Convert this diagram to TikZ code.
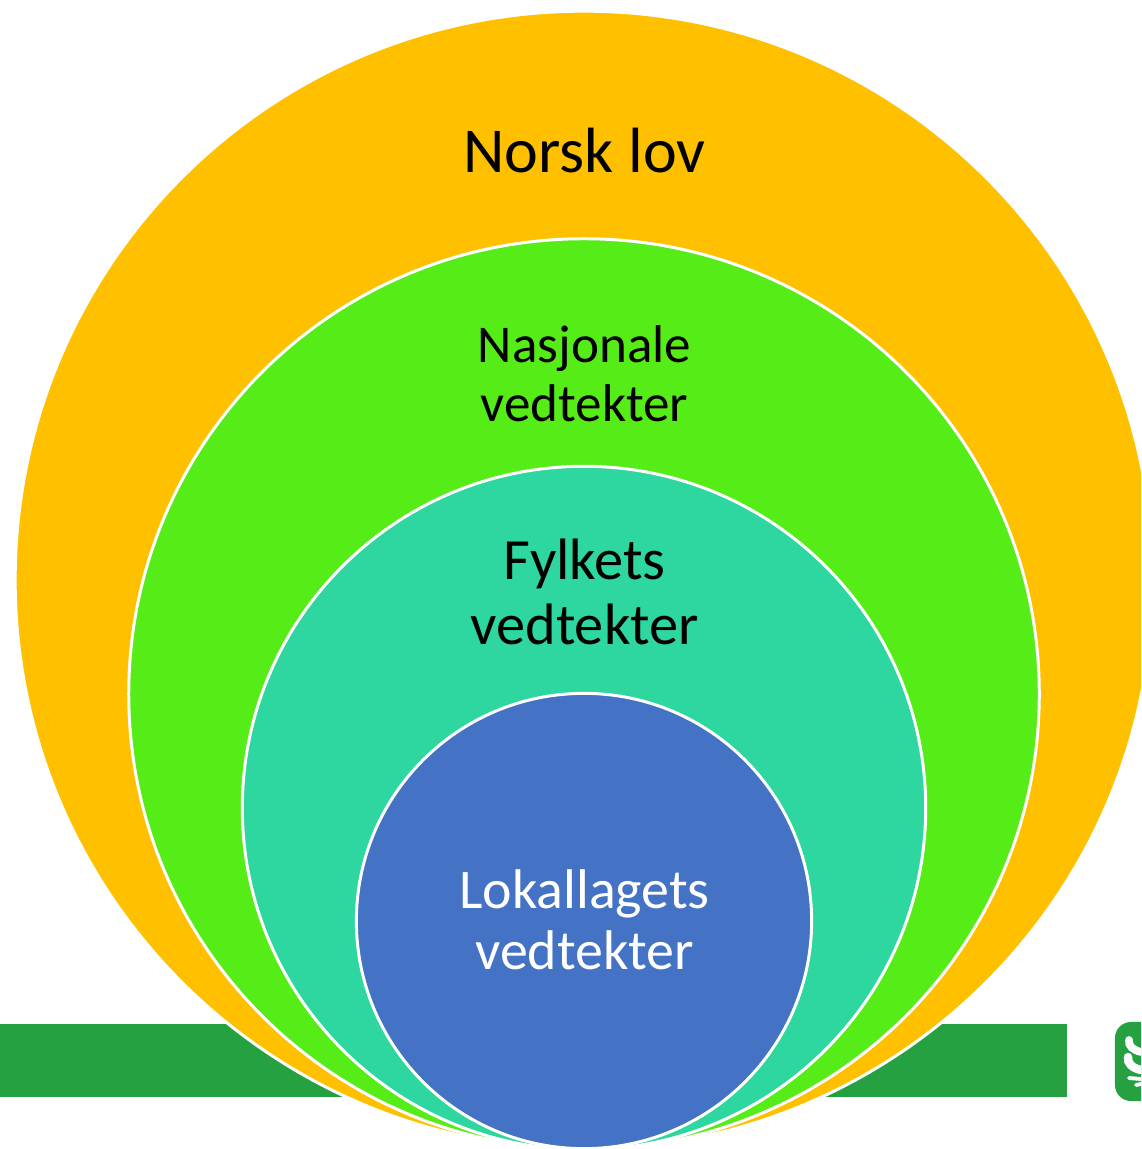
\documentclass[tikz,border=0pt]{standalone}
\usepackage{fontspec}
\setmainfont{Carlito}
\definecolor{lawcolor}{HTML}{FFC000}
\definecolor{nationcolor}{HTML}{55EC17}
\definecolor{countycolor}{HTML}{2ED6A0}
\definecolor{localcolor}{HTML}{4472C4}
\definecolor{barcolor}{HTML}{26A142}
\begin{document}
\begin{tikzpicture}[x=0.01cm,y=-0.01cm,
  ring/.style={draw=white,circle,line width=0.85pt,inner sep=0pt,outer sep=0pt},
  caption/.style={align=center,inner sep=0pt}]
  \useasboundingbox (0,0) rectangle (1141,1149);
  \clip (0,0) rectangle (1141,1149);
  \node (bar) at (533.5,1060.5)[fill=barcolor,minimum width=10.67cm,minimum height=0.73cm,inner sep=0pt]{};
  \node (logo) at (1165,1061.5)[fill=barcolor,rounded corners=0.16cm,minimum width=1cm,minimum height=0.79cm,inner sep=0pt]{};
  % leaf on the logo
  \draw[white,line width=2.2pt,line cap=round] (1129,1040) .. controls (1128,1046) and (1133,1050) .. (1141,1052);
  \draw[white,line width=2.4pt,line cap=round] (1128,1057) .. controls (1127,1063) and (1132,1068) .. (1141,1070);
  \draw[white,line width=1.1pt,line cap=round] (1129,1078) -- (1141,1079);
  \draw[white,line width=1.1pt,line cap=round] (1136,1085) -- (1141,1084);
  \node (law) at (584,580)[ring,fill=lawcolor,minimum size=11.37cm]{};
  \node (nation) at (584,694)[ring,fill=nationcolor,minimum size=9.1cm]{};
  \node (county) at (584,808)[ring,fill=countycolor,minimum size=6.83cm]{};
  \node (local) at (584,921)[ring,fill=localcolor,minimum size=4.55cm]{};
  \node (lawtext) at (584.5,151)[caption,font=\fontsize{18.2}{22}\selectfont]{Norsk lov};
  \node (nationtext) at (584.5,373.5)[caption,font=\fontsize{15.1}{16.8}\selectfont]{Nasjonale\\vedtekter};
  \node (countytext) at (584.5,592)[caption,font=\fontsize{16.6}{18.3}\selectfont]{Fylkets\\vedtekter};
  \node (localtext) at (584.5,920)[caption,text=white,font=\fontsize{15.9}{17.4}\selectfont]{Lokallagets\\vedtekter};
\end{tikzpicture}
\end{document}
